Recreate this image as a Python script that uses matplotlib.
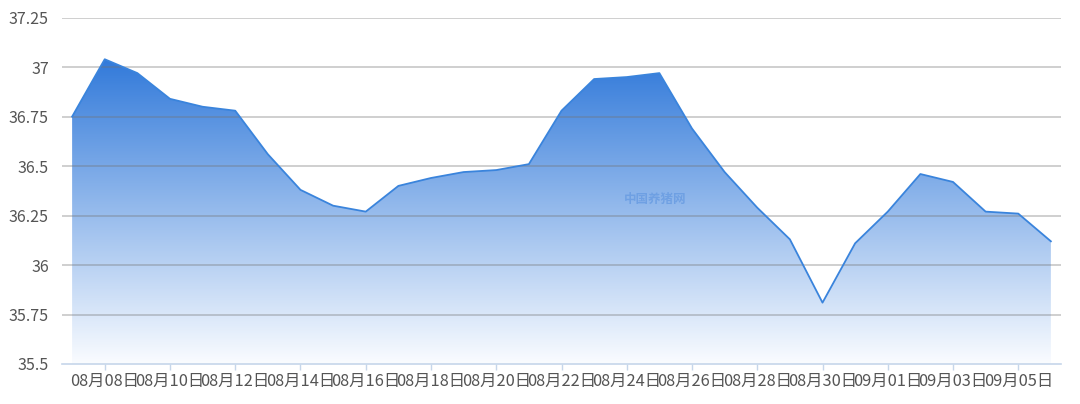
import matplotlib
matplotlib.use("Agg")
import matplotlib.pyplot as plt
import numpy as np
from matplotlib.colors import LinearSegmentedColormap
from matplotlib.patches import Polygon

plt.rcParams['font.family'] = ['Noto Sans CJK SC', 'DejaVu Sans']

dates = ["08月07日", "08月08日", "08月09日", "08月10日", "08月11日", "08月12日",
         "08月13日", "08月14日", "08月15日", "08月16日", "08月17日", "08月18日",
         "08月19日", "08月20日", "08月21日", "08月22日", "08月23日", "08月24日",
         "08月25日", "08月26日", "08月27日", "08月28日", "08月29日", "08月30日",
         "08月31日", "09月01日", "09月02日", "09月03日", "09月04日", "09月05日",
         "09月06日"]
values = [36.75, 37.04, 36.97, 36.84, 36.80, 36.78, 36.56, 36.38, 36.30, 36.27,
          36.40, 36.44, 36.47, 36.48, 36.51, 36.78, 36.94, 36.95, 36.97, 36.69,
          36.47, 36.29, 36.13, 35.81, 36.11, 36.27, 36.46, 36.42, 36.27, 36.26,
          36.12]
y_ticks = [35.5, 35.75, 36, 36.25, 36.5, 36.75, 37, 37.25]
y_tick_labels = ["35.5", "35.75", "36", "36.25", "36.5", "36.75", "37", "37.25"]
watermark = "中国养猪网"

W, H = 1080, 404
fig = plt.figure(figsize=(W / 100, H / 100), dpi=100)
ax = fig.add_axes([62 / W, 40 / H, (1061 - 62) / W, (364 - 17.7) / H])

x = np.arange(len(values))
ymin, ymax = 35.5, 37.25
ax.set_xlim(-0.31, len(values) - 1 + 0.31)
ax.set_ylim(ymin, ymax)

# gradient fill
top_col = np.array([50, 122, 218]) / 255
bot_col = np.array([250, 252, 255]) / 255
cmap = LinearSegmentedColormap.from_list("g", [bot_col, top_col])
vmax = max(values)
grad = np.linspace(0, 1, 256).reshape(-1, 1)
im = ax.imshow(grad, cmap=cmap, aspect='auto', origin='lower',
               extent=[x[0], x[-1], ymin, vmax], zorder=1)
verts = [(x[0], ymin)] + list(zip(x, values)) + [(x[-1], ymin)]
poly = Polygon(verts, closed=True, facecolor='none', edgecolor='none')
ax.add_patch(poly)
im.set_clip_path(poly)

# grid
for yt in y_ticks[1:]:
    ax.axhline(yt, color=(0.45, 0.45, 0.45), alpha=0.4, lw=1.2, zorder=2)

ax.plot(x, values, color='#3a84dc', lw=1.3, zorder=3)

# axes styling
for s in ['top', 'right', 'left']:
    ax.spines[s].set_visible(False)
ax.spines['bottom'].set_color('#c6d6ea')
ax.spines['bottom'].set_linewidth(1.2)
ax.spines['bottom'].set_zorder(4)

ax.set_yticks(y_ticks)
ax.set_yticklabels(y_tick_labels)
ax.tick_params(axis='y', length=0, pad=9.5, labelsize=11.5, labelcolor='#555555')

xt = x[1::2]
ax.set_xticks(xt)
ax.set_xticklabels([dates[i] for i in xt])
ax.tick_params(axis='x', length=4, width=1, color='#c6d6ea', pad=2.5,
               labelsize=11.8, labelcolor='#555555')

ax.text(17.87, 36.33, watermark, color='#6a9de2', fontsize=9, fontweight='bold',
        ha='center', va='center', zorder=3, alpha=0.85)

fig.savefig("out.png", dpi=100)
